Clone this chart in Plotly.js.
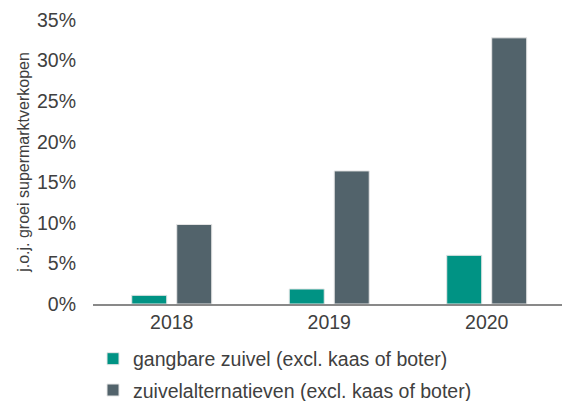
<!DOCTYPE html>
<html>
<head>
<meta charset="utf-8">
<script src="https://cdn.plot.ly/plotly-3.0.1.min.js"></script>
<style>html,body{margin:0;padding:0;background:#fff;}#chart{width:562px;height:401px;}</style>
</head>
<body>
<div id="chart"></div>
<script>
const years = ['2018', '2019', '2020'];
const gangbareZuivel = [0.0107, 0.0185, 0.060];
const zuivelAlternatieven = [0.098, 0.164, 0.328];
const seriesNames = ['gangbare zuivel (excl. kaas of boter)', 'zuivelalternatieven (excl. kaas of boter)'];
const yTickVals = [0, 0.05, 0.10, 0.15, 0.20, 0.25, 0.30, 0.35];

const font = {family: 'Liberation Sans, Arial, sans-serif', size: 19.5, color: '#404040'};

const traces = [
  {type: 'bar', x: years, y: gangbareZuivel, name: seriesNames[0], legendgroup: 'a',
   marker: {color: '#009384', line: {color: '#e6e6e6', width: 1}}, hoverinfo: 'y'},
  {type: 'bar', x: years, y: zuivelAlternatieven, name: seriesNames[1], legendgroup: 'b',
   marker: {color: '#52636b', line: {color: '#e6e6e6', width: 1}}, hoverinfo: 'y'}
];

const layout = {
  width: 562, height: 401,
  margin: {l: 93, r: 0, t: 20, b: 97, autoexpand: false},
  paper_bgcolor: '#fff', plot_bgcolor: '#fff',
  font: font,
  barmode: 'group',
  bargap: 0.4286,
  bargroupgap: 0.222,
  showlegend: true,
  legend: {orientation: 'v', x: 0, xanchor: 'left', y: -0.125, yanchor: 'top',
           font: font, traceorder: 'grouped', tracegroupgap: 3, itemwidth: 30},
  xaxis: {type: 'category', range: [-0.5, 2.478], showgrid: false, zeroline: false,
          showline: true, linecolor: '#898989', linewidth: 1.5, ticks: '', tickfont: font},
  yaxis: {range: [0, 0.35], tickvals: yTickVals, tickformat: '.0%', showgrid: false,
          zeroline: false, showline: false, ticks: '', tickfont: font, ticklabelstandoff: 16,
          title: {text: 'j.o.j. groei supermarktverkopen', font: {family: font.family, size: 16, color: '#404040'}, standoff: 3}}
};

Plotly.newPlot('chart', traces, layout, {displayModeBar: false, staticPlot: true});
</script>
</body>
</html>
